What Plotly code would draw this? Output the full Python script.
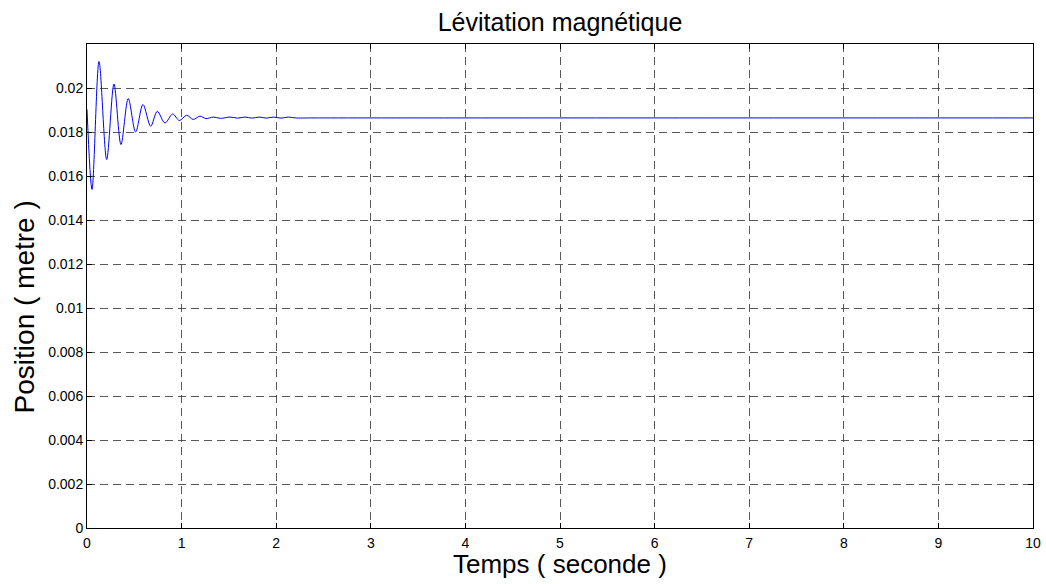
import plotly.graph_objects as go

# Position response of the levitating ball: successive peaks/troughs (s, m)
temps = [0.0, 0.053, 0.127, 0.208, 0.285, 0.359, 0.436, 0.514, 0.592, 0.673,
         0.743, 0.824, 0.906, 0.976, 1.053, 1.123, 1.194, 1.258, 1.335, 1.41,
         1.512, 1.59, 1.670, 1.745, 1.821, 1.895, 1.969, 2.05, 2.128, 2.2,
         2.4, 10.0]
position = [0.01903, 0.01539, 0.02121, 0.01675, 0.02018, 0.01743, 0.01952, 0.01800,
            0.01925, 0.01826, 0.01894, 0.01841, 0.01882, 0.01852, 0.01876, 0.01857,
            0.01872, 0.01861, 0.01868, 0.01862, 0.01868, 0.01863, 0.01868, 0.01863,
            0.01868, 0.01863, 0.01868, 0.01863, 0.01868, 0.01864, 0.01864, 0.01864]

x_ticks = [0, 1, 2, 3, 4, 5, 6, 7, 8, 9, 10]
y_ticks = [0, 0.002, 0.004, 0.006, 0.008, 0.01, 0.012, 0.014, 0.016, 0.018, 0.02]
y_tick_labels = ["0", "0.002", "0.004", "0.006", "0.008", "0.01", "0.012",
                 "0.014", "0.016", "0.018", "0.02"]

FONT = "Liberation Sans, Arial, Helvetica, sans-serif"

fig = go.Figure()
fig.add_trace(go.Scatter(
    x=temps, y=position, mode="lines",
    line=dict(color="#0000ff", width=1, shape="spline", smoothing=0.9),
    showlegend=False, hoverinfo="x+y",
))

grid = dict(showgrid=True, gridcolor="rgba(60,60,60,0.85)", gridwidth=1,
            griddash="8px,5px", zeroline=False, showline=True,
            linecolor="black", linewidth=1, mirror="allticks",
            ticks="inside", ticklen=5, tickcolor="black",
            tickfont=dict(family=FONT, size=14, color="black"))

fig.update_xaxes(range=[0, 10], tickvals=x_ticks, ticklabelstandoff=2, **grid)
fig.update_yaxes(range=[0, 0.022], tickvals=y_ticks, ticktext=y_tick_labels, **grid)

# Axis titles placed as paper annotations
fig.add_annotation(text="Temps ( seconde )", xref="paper", yref="paper",
                   x=0.5, y=-0.074, xanchor="center", yanchor="middle",
                   showarrow=False, font=dict(family=FONT, size=26, color="black"))
fig.add_annotation(text="Position ( metre )", xref="paper", yref="paper",
                   x=-0.066, y=0.457, xanchor="center", yanchor="middle", textangle=-90,
                   showarrow=False, font=dict(family=FONT, size=28, color="black"))

fig.update_layout(
    width=1046, height=584,
    margin=dict(l=87, r=13, t=44, b=56, autoexpand=False),
    paper_bgcolor="white", plot_bgcolor="white",
    title=dict(text="Lévitation magnétique", x=0.5, xanchor="center",
               xref="paper", y=0.962, yanchor="middle",
               font=dict(family=FONT, size=25, color="black")),
    font=dict(family=FONT, color="black"),
)

fig.write_html("out.html")
